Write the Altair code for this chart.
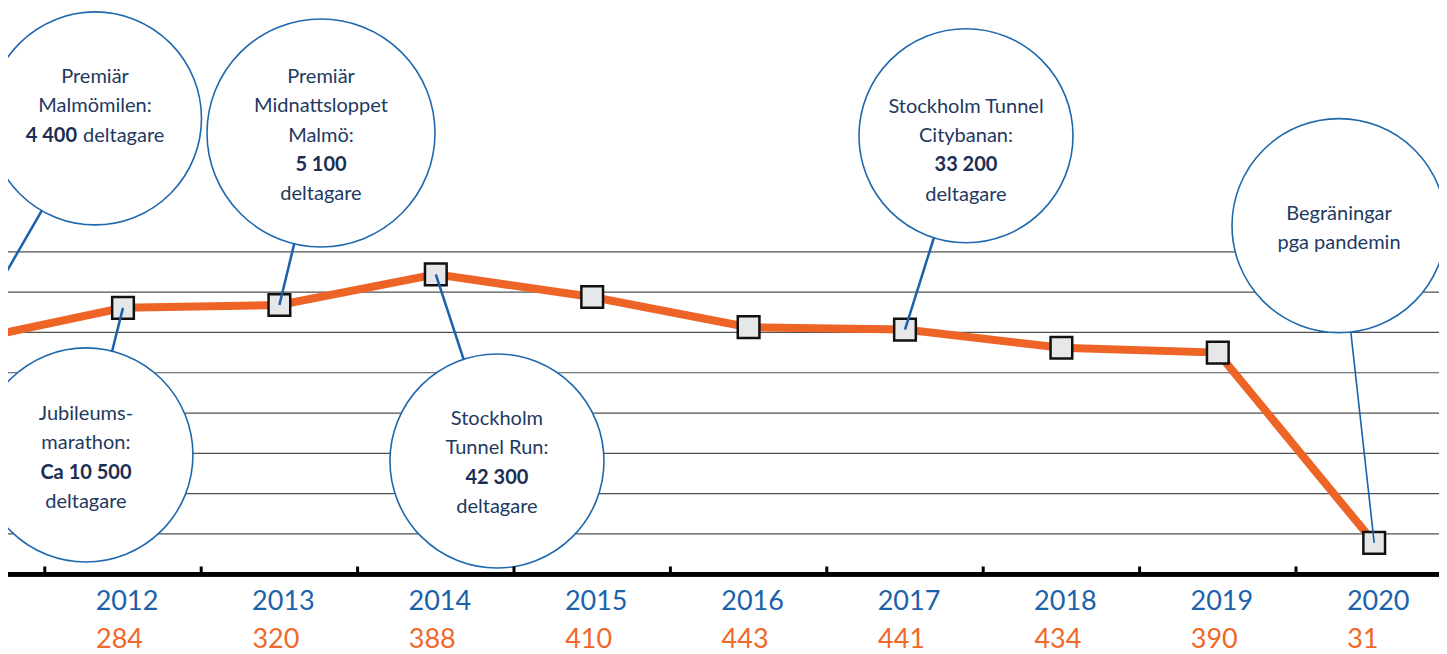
import math
import altair as alt
import pandas as pd

# ---------------- data ----------------
years = [2011, 2012, 2013, 2014, 2015, 2016, 2017, 2018, 2019, 2020]
participants = [579000, 661000, 668000, 744000, 688000, 613000, 607000, 562000, 550000, 78000]

label_years = [2012, 2013, 2014, 2015, 2016, 2017, 2018, 2019, 2020]
race_counts = ["284", "320", "388", "410", "443", "441", "434", "390", "31"]

grid_values = [100000, 200000, 300000, 400000, 500000, 600000, 700000, 800000]
tick_positions = [2011.5, 2012.5, 2013.5, 2014.5, 2015.5, 2016.5, 2017.5, 2018.5, 2019.5]

# annotation bubbles
bubble_cx = [2011.821, 2013.266, 2011.763, 2014.391, 2017.390, 2019.775]
bubble_cy = [1131000, 1095000, 296000, 281000, 1088000, 865000]
bubble_r = [106.5, 114, 107, 107, 107, 107]
bubble_target = [2011, 2013, 2012, 2014, 2017, 2020]
bubble_link_width = [2.5, 2.5, 2.5, 2.5, 2.5, 1.6]
bubble_first_dy = [-41.5, -56, -41, -42, -29, -12]
bubble_lines = [
    [("Premiär", "n"), ("Malmömilen:", "n"), ([("4 400", "b"), ("deltagare", "n")], "mix")],
    [("Premiär", "n"), ("Midnattsloppet", "n"), ("Malmö:", "n"), ("5 100", "b"), ("deltagare", "n")],
    [("Jubileums-", "n"), ("marathon:", "n"), ("Ca 10 500", "b"), ("deltagare", "n")],
    [("Stockholm", "n"), ("Tunnel Run:", "n"), ("42 300", "b"), ("deltagare", "n")],
    [("Stockholm Tunnel", "n"), ("Citybanan:", "n"), ("33 200", "b"), ("deltagare", "n")],
    [("Begräningar", "n"), ("pga pandemin", "n")],
]

# ---------------- layout ----------------
W, H = 1431, 636
X0, X1 = 2011.2647, 2011.2647 + 1431 / 156.4
Y0, Y1 = -178000, 1400000
PX_X = W / (X1 - X0)
PX_Y = H / (Y1 - Y0)
LINE_H = 29.3

xs = alt.Scale(domain=[X0, X1], nice=False, zero=False)
ys = alt.Scale(domain=[Y0, Y1], nice=False, zero=False)

ORANGE = "#ee6426"
BLUE = "#1762aa"
NAVY = "#22395f"
BOLDNAVY = "#1b2e52"

line_df = pd.DataFrame({"year": years, "value": participants})
val_by_year = dict(zip(years, participants))

# bubbles, connectors and texts
bub_rows, link_rows, text_rows = [], [], []
for i in range(len(bubble_cx)):
    cx, cy, r = bubble_cx[i], bubble_cy[i], bubble_r[i]
    tx = bubble_target[i]
    ty = val_by_year[tx]
    dxp = (tx - cx) * PX_X
    dyp = (ty - cy) * PX_Y
    dist = math.hypot(dxp, dyp)
    f = r / dist
    bub_rows.append({"x": cx, "y": cy, "sz": (2 * r) ** 2})
    link_rows.append({"x": cx + (tx - cx) * f, "y": cy + (ty - cy) * f,
                      "x2": tx, "y2": ty, "w": bubble_link_width[i]})
    for j, (txt, kind) in enumerate(bubble_lines[i]):
        ypos = cy - (bubble_first_dy[i] + j * LINE_H) / PX_Y
        if kind == "mix":
            (b_txt, _), (n_txt, _) = txt
            text_rows.append({"x": cx - 18 / PX_X, "y": ypos, "t": b_txt, "k": "bright"})
            text_rows.append({"x": cx - 12 / PX_X, "y": ypos, "t": n_txt, "k": "nleft"})
        else:
            text_rows.append({"x": cx, "y": ypos, "t": txt, "k": kind})

bub_df = pd.DataFrame(bub_rows)
link_df = pd.DataFrame(link_rows)
text_df = pd.DataFrame(text_rows)
grid_df = pd.DataFrame({"v": grid_values})
tick_df = pd.DataFrame({"x": tick_positions})
lab_df = pd.DataFrame({"year": label_years, "count": race_counts,
                       "ylab": [str(y) for y in label_years]})

X = lambda f: alt.X(f, type="quantitative", scale=xs, axis=None)
Y = lambda f: alt.Y(f, type="quantitative", scale=ys, axis=None)

grid = alt.Chart(grid_df).mark_rule(color="#505050", strokeWidth=1.2).encode(
    y=Y("v"), x=alt.value(0), x2=alt.value(W))

bubbles = alt.Chart(bub_df).mark_circle(
    fill="white", stroke="#1f68ad", strokeWidth=1.6, opacity=1, fillOpacity=1, clip=True
).encode(x=X("x"), y=Y("y"), size=alt.Size("sz:Q", scale=None, legend=None))

line = alt.Chart(line_df).mark_line(color=ORANGE, strokeWidth=8, clip=True).encode(
    x=X("year"), y=Y("value"))

markers = alt.Chart(line_df).mark_square(
    size=470, fill="#e6e7e8", stroke="#111111", strokeWidth=2.5, opacity=1, clip=True
).encode(x=X("year"), y=Y("value"))

links = alt.Chart(link_df).mark_rule(color=BLUE, clip=True).encode(
    x=X("x"), y=Y("y"), x2="x2:Q", y2="y2:Q",
    strokeWidth=alt.StrokeWidth("w:Q", scale=None, legend=None))

FONT = "Lato"
txt_n = alt.Chart(text_df).transform_filter("datum.k == 'n'").mark_text(
    font=FONT, fontSize=20, color=NAVY, align="center", baseline="middle"
).encode(x=X("x"), y=Y("y"), text="t:N")
txt_b = alt.Chart(text_df).transform_filter("datum.k == 'b'").mark_text(
    font=FONT, fontSize=20, fontWeight="bold", color=BOLDNAVY, align="center", baseline="middle"
).encode(x=X("x"), y=Y("y"), text="t:N")
txt_br = alt.Chart(text_df).transform_filter("datum.k == 'bright'").mark_text(
    font=FONT, fontSize=20, fontWeight="bold", color=BOLDNAVY, align="right", baseline="middle"
).encode(x=X("x"), y=Y("y"), text="t:N")
txt_nl = alt.Chart(text_df).transform_filter("datum.k == 'nleft'").mark_text(
    font=FONT, fontSize=20, color=NAVY, align="left", baseline="middle"
).encode(x=X("x"), y=Y("y"), text="t:N")

axis_line = alt.Chart(grid_df).mark_rule(color="#000000", strokeWidth=4).encode(
    x=alt.value(0), x2=alt.value(W), y=alt.value(564.3))

ticks = alt.Chart(tick_df).mark_rule(color="#000000", strokeWidth=3).encode(
    x=X("x"), y=alt.value(556.5), y2=alt.value(564))

year_text = alt.Chart(lab_df).mark_text(
    font=FONT, fontSize=27, color="#1a62aa", align="center", baseline="middle", dx=4
).encode(x=X("year"), y=alt.value(591.5), text="ylab:N")

count_text = alt.Chart(lab_df).mark_text(
    font=FONT, fontSize=27, color="#f0692a", align="left", baseline="middle", dx=-27
).encode(x=X("year"), y=alt.value(629.5), text="count:N")

chart = alt.layer(
    grid, bubbles, line, markers, links, txt_n, txt_b, txt_br, txt_nl,
    axis_line, ticks, year_text, count_text
).properties(
    width=W, height=H,
    autosize=alt.AutoSizeParams(type="none"),
    padding={"left": 0, "top": 2, "right": 0, "bottom": 8},
).configure_view(stroke=None)

chart.save("out.html", embed_options={"renderer": "svg", "actions": False})
